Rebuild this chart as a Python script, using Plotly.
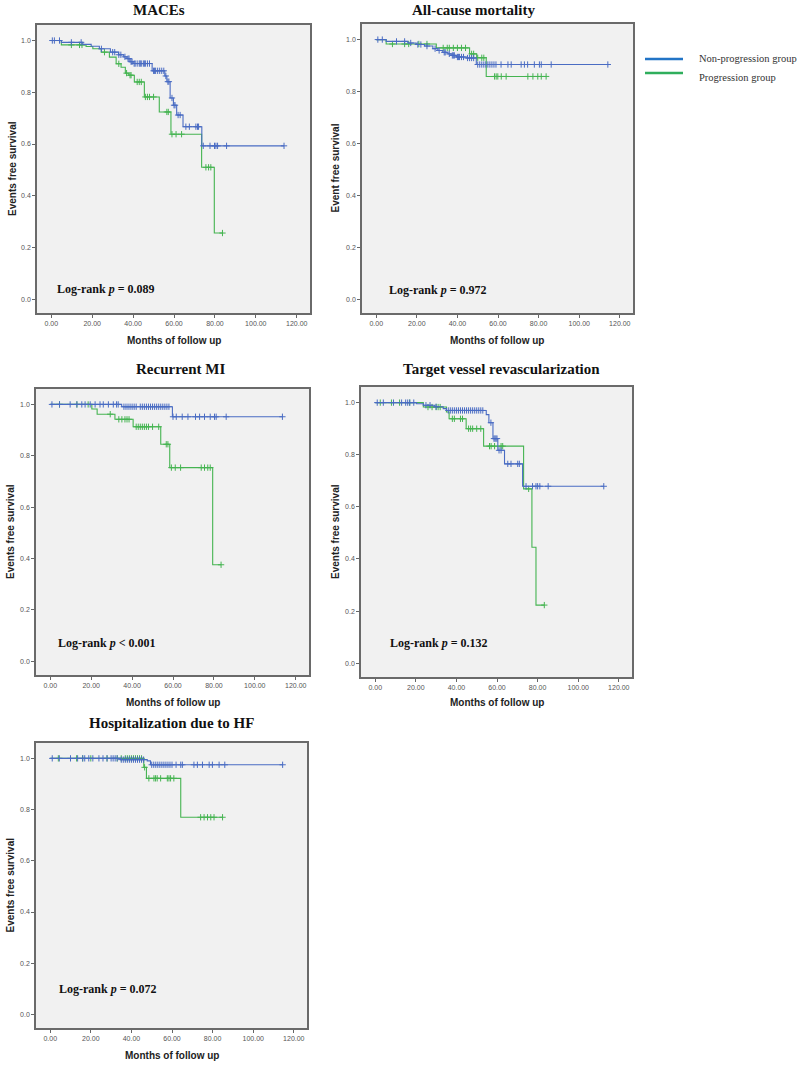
import plotly.graph_objects as go

# ---------------- data ----------------
# Each curve: event times, survival after event, censor times
# MACEs
maces_np_t = [4.9, 15.4, 19.5, 23.5, 28.9, 32.9, 35.4, 37.0, 38.5, 40.0, 49.3, 55.5, 56.5, 58.1, 59.7, 61.3, 64.4, 73.6]
maces_np_s = [0.993, 0.985, 0.978, 0.968, 0.955, 0.945, 0.937, 0.930, 0.918, 0.911, 0.883, 0.863, 0.841, 0.778, 0.750, 0.712, 0.667, 0.593]
maces_np_c = [0.5, 1.5, 4.0, 9.8, 14.6, 24.5, 30, 31, 33, 34, 36, 37.5, 38, 39, 39.5, 40.5, 41, 42, 43, 43.5, 44, 45, 45.5,
              46, 47, 48, 50, 50.5, 51, 52, 53, 54, 55, 56, 57, 57.5, 59, 60, 60.5, 62, 63, 65.8, 67.5, 70.7, 71.5, 72,
              74.3, 77.6, 79.8, 80.5, 81.3, 85.7, 113.8]
maces_p_t = [4.9, 17.0, 20.3, 24.4, 28.4, 31.7, 34.1, 36.2, 37.9, 40.6, 45.5, 52.8, 58.5, 73.5, 79.7]
maces_p_s = [0.983, 0.977, 0.968, 0.955, 0.936, 0.910, 0.897, 0.874, 0.866, 0.840, 0.782, 0.724, 0.638, 0.510, 0.256]
maces_p_c = [9.8, 13.8, 15, 26, 33, 36.8, 38.5, 39, 42, 43, 44, 46, 47, 48, 50, 56.5, 57.2, 59, 61, 63.7,
             75.6, 76.9, 78, 83.7]

# All-cause mortality
acm_np_t = [4.9, 15.6, 19.7, 23.8, 27.9, 30.4, 32.8, 35.3, 36.9, 39.4, 44.3, 49.3]
acm_np_s = [0.993, 0.987, 0.981, 0.975, 0.965, 0.958, 0.951, 0.945, 0.939, 0.933, 0.929, 0.904]
acm_np_c = [0.8, 3, 10, 14, 17, 20.5, 22, 25, 29, 31, 33.5, 34, 36, 37.5, 38, 38.5, 40, 40.5, 41, 42, 43, 45, 46, 47,
            48, 50, 51, 52, 53, 54, 55, 56, 57, 58, 59, 61.5, 64.9, 66.5, 71.4, 73, 74.6, 77.9, 80.4, 81.3, 86.2, 114.1]
acm_p_t = [4.9, 29.6, 46.0, 49.5, 54.2]
acm_p_s = [0.983, 0.968, 0.945, 0.930, 0.858]
acm_p_c = [8, 14, 16, 21, 25, 33, 35, 36, 38, 40, 42, 44, 47, 48, 50, 52, 53, 58.3, 59.1, 59.9, 61.6, 64,
           74.7, 77.2, 79.6, 81.3, 83.7]

# Recurrent MI
rmi_np_t = [34.9, 59.7]
rmi_np_s = [0.991, 0.952]
rmi_np_c = [0.8, 4.5, 9.7, 13, 15.4, 17, 19.5, 21.9, 24.3, 25.9, 28.4, 30.8, 32.4, 33.2, 36, 37, 38, 39, 40, 41, 42,
            44, 45, 46, 47, 48, 49, 50, 51, 52, 53, 54, 55, 56, 57, 58, 60, 61.6, 64.5, 67.3, 71, 73, 75.4, 78.2,
            80.3, 81.1, 86, 113.5]
rmi_p_t = [20.3, 22.9, 31.6, 40.5, 54.0, 58.4, 79.4]
rmi_p_s = [0.982, 0.962, 0.942, 0.913, 0.845, 0.754, 0.376]
rmi_p_c = [4.5, 13, 18.5, 29.3, 33.5, 35, 36.5, 37.5, 38.5, 42, 43, 44, 45, 46, 47, 48, 50, 53, 56.7, 57.5,
           59.2, 61.1, 63.7, 73.8, 75.4, 77, 78.2, 83.5]

# Target vessel revascularization
tvr_np_t = [20.4, 23.7, 29.4, 33.5, 35.1, 54.7, 56.0, 58.0, 60.4, 63.7, 72.6]
tvr_np_s = [0.996, 0.990, 0.984, 0.977, 0.970, 0.954, 0.923, 0.862, 0.817, 0.765, 0.679]
tvr_np_c = [1, 4, 9, 13, 15, 16, 17, 19, 25, 27, 30, 36, 37, 38, 39, 40, 41, 42, 43, 44, 45, 46, 47, 48, 49, 50,
            51, 52, 53, 57, 58.5, 59, 59.5, 60, 61, 62, 65.3, 66.9, 70.2, 71, 74.3, 77.5, 79.2, 80, 81.1, 85.2, 112.6]
tvr_p_t = [23.7, 35.1, 36.4, 44.8, 53.4, 73.1, 77.2, 79.2]
tvr_p_s = [0.983, 0.964, 0.938, 0.900, 0.833, 0.669, 0.445, 0.223]
tvr_p_c = [2.5, 8, 12, 17, 26, 28, 30, 31, 32, 38, 39, 42, 43, 46, 47, 48, 50, 52, 56.3, 57.1, 58.8, 62, 62.8,
           75.6, 83.3]

# Hospitalization due to HF
hf_np_t = [34.6, 47.8, 49.4]
hf_np_s = [0.995, 0.990, 0.975]
hf_np_c = [1, 4.5, 10, 13.5, 16, 17, 19, 21, 24, 26, 28, 30, 31, 32, 33, 35, 36, 37, 38, 39, 40, 41, 42, 43, 44,
           45, 46, 50, 51, 52, 53, 54, 55, 56, 57, 58, 59, 60, 62, 64.3, 65.1, 70.8, 72.5, 75, 78.3, 79.9, 83.2,
           86, 114.5]
hf_p_t = [46.1, 47.4, 64.3]
hf_p_s = [0.965, 0.922, 0.770]
hf_p_c = [4, 13, 16, 20, 28, 33, 35, 37, 38, 39, 40, 41, 42, 43, 44, 45, 46.5, 48.6, 51.1, 51.9, 52.7, 54.4,
          57.7, 58.5, 59.3, 60.9, 74.1, 75.8, 77.5, 79.1, 80.7, 84.9]

panel_titles = ["MACEs", "All-cause mortality", "Recurrent MI", "Target vessel revascularization",
                "Hospitalization due to HF"]
y_titles = ["Events free survival", "Event free survival", "Events free survival", "Events free survival",
            "Events free survival"]
p_texts = ["= 0.089", "= 0.972", "< 0.001", "= 0.132", "= 0.072"]
group_names = ["Non-progression group", "Progression group"]
x_tick_vals = [0, 20, 40, 60, 80, 100, 120]
x_tick_text = ["0.00", "20.00", "40.00", "60.00", "80.00", "100.00", "120.00"]
y_tick_vals = [0, 0.2, 0.4, 0.6, 0.8, 1.0]
y_tick_text = ["0.0", "0.2", "0.4", "0.6", "0.8", "1.0"]

panels = [
    (maces_np_t, maces_np_s, maces_np_c, maces_p_t, maces_p_s, maces_p_c),
    (acm_np_t, acm_np_s, acm_np_c, acm_p_t, acm_p_s, acm_p_c),
    (rmi_np_t, rmi_np_s, rmi_np_c, rmi_p_t, rmi_p_s, rmi_p_c),
    (tvr_np_t, tvr_np_s, tvr_np_c, tvr_p_t, tvr_p_s, tvr_p_c),
    (hf_np_t, hf_np_s, hf_np_c, hf_p_t, hf_p_s, hf_p_c),
]

# ---------------- layout geometry (pixels) ----------------
W, H = 800, 1068
frames = [(37, 310, 25, 313), (362, 633, 24, 313), (36, 309, 389, 675), (361, 632, 387, 677), (36, 307, 743, 1028)]
title_pos = [(159, 10), (473, 10), (180, 369), (502, 369), (171, 723)]
xtitle_y = [340, 340, 702, 702, 1055]
ytitle_x = [12, 335, 10, 335, 10]
prank_pos = [(55, 289), (387, 290), (56, 643), (388, 643), (57, 989)]
legend_line_x = (645, 683)
legend_line_y = [59, 73]
legend_text_x = 697
legend_text_y = [58, 77]

COL_B = "#4a6cc3"
COL_G = "#45b451"
LEG_B = "#2274c6"
LEG_G = "#2fae5c"


def px(x):
    return x / W


def py(y):
    return 1 - y / H


def step_curve(t, s, c):
    xs = [0.0] + list(t)
    ys = [1.0] + list(s)
    end = max(c + [t[-1]])
    xs.append(end)
    ys.append(ys[-1])
    return xs, ys


def surv_at(t, s, times):
    out = []
    for ct in times:
        v = 1.0
        for et, es in zip(t, s):
            if et <= ct:
                v = es
        out.append(v)
    return out


fig = go.Figure()
layout = dict(width=W, height=H, margin=dict(l=0, r=0, t=0, b=0), paper_bgcolor="white",
              plot_bgcolor="#f1f1f1", showlegend=False)
annotations = []
shapes = []

for i, (nt, ns, nc, gt, gs, gc) in enumerate(panels):
    k = "" if i == 0 else str(i + 1)
    xa, ya = "x" + k, "y" + k
    l, r, tp, b = frames[i]
    for (t, s, c, col) in [(gt, gs, gc, COL_G), (nt, ns, nc, COL_B)]:
        xs, ys = step_curve(t, s, c)
        fig.add_trace(go.Scatter(x=xs, y=ys, mode="lines", line=dict(color=col, width=1.1, shape="hv"),
                                 xaxis=xa, yaxis=ya, hoverinfo="skip"))
        fig.add_trace(go.Scatter(x=c, y=surv_at(t, s, c), mode="markers",
                                 marker=dict(symbol="cross-thin", size=4.5, line=dict(color=col, width=1)),
                                 xaxis=xa, yaxis=ya, hoverinfo="skip"))
    axis_common = dict(showgrid=False, zeroline=False, showline=True, mirror=True, linecolor="#6a6a6a",
                       linewidth=1.5, ticks="outside", ticklen=3, tickwidth=1, tickcolor="#666",
                       tickfont=dict(family="Liberation Sans, Arial", size=7, color="#555"))
    layout["xaxis" + k] = dict(domain=[px(l), px(r)], range=[-7, 126.5], anchor=ya,
                               tickvals=x_tick_vals, ticktext=x_tick_text, **axis_common)
    layout["yaxis" + k] = dict(domain=[py(b), py(tp)], range=[-0.053, 1.06], anchor=xa,
                               tickvals=y_tick_vals, ticktext=y_tick_text, **axis_common)
    tx, ty = title_pos[i]
    annotations.append(dict(text="<b>" + panel_titles[i] + "</b>", x=px(tx), y=py(ty), xref="paper", yref="paper",
                            showarrow=False, xanchor="center", yanchor="middle",
                            font=dict(family="Liberation Serif, Times New Roman", size=15, color="#111")))
    annotations.append(dict(text="<b>Months of follow up</b>", x=px((l + r) / 2), y=py(xtitle_y[i]),
                            xref="paper", yref="paper", showarrow=False, xanchor="center", yanchor="middle",
                            font=dict(family="Liberation Sans, Arial", size=10, color="#222")))
    annotations.append(dict(text="<b>" + y_titles[i] + "</b>", x=px(ytitle_x[i]), y=py((tp + b) / 2),
                            xref="paper", yref="paper", showarrow=False, xanchor="center", yanchor="middle",
                            textangle=-90, font=dict(family="Liberation Sans, Arial", size=10, color="#222")))
    lx, ly = prank_pos[i]
    annotations.append(dict(text="<b>Log-rank <i>p</i> " + p_texts[i] + "</b>", x=px(lx), y=py(ly),
                            xref="paper", yref="paper", showarrow=False, xanchor="left", yanchor="middle",
                            font=dict(family="Liberation Serif, Times New Roman", size=12, color="#111")))

# manual legend
for name, col, ly_line, ly_text in zip(group_names, [LEG_B, LEG_G], legend_line_y, legend_text_y):
    shapes.append(dict(type="line", xref="paper", yref="paper", x0=px(legend_line_x[0]), x1=px(legend_line_x[1]),
                       y0=py(ly_line), y1=py(ly_line), line=dict(color=col, width=2.5)))
    annotations.append(dict(text=name, x=px(legend_text_x), y=py(ly_text), xref="paper", yref="paper",
                            showarrow=False, xanchor="left", yanchor="middle",
                            font=dict(family="Liberation Serif, Times New Roman", size=10.5, color="#333")))

layout["annotations"] = annotations
layout["shapes"] = shapes
fig.update_layout(**layout)
fig.write_html("out.html", config={"displayModeBar": False},
               post_script="document.body.style.margin='0';document.body.style.padding='0';")
